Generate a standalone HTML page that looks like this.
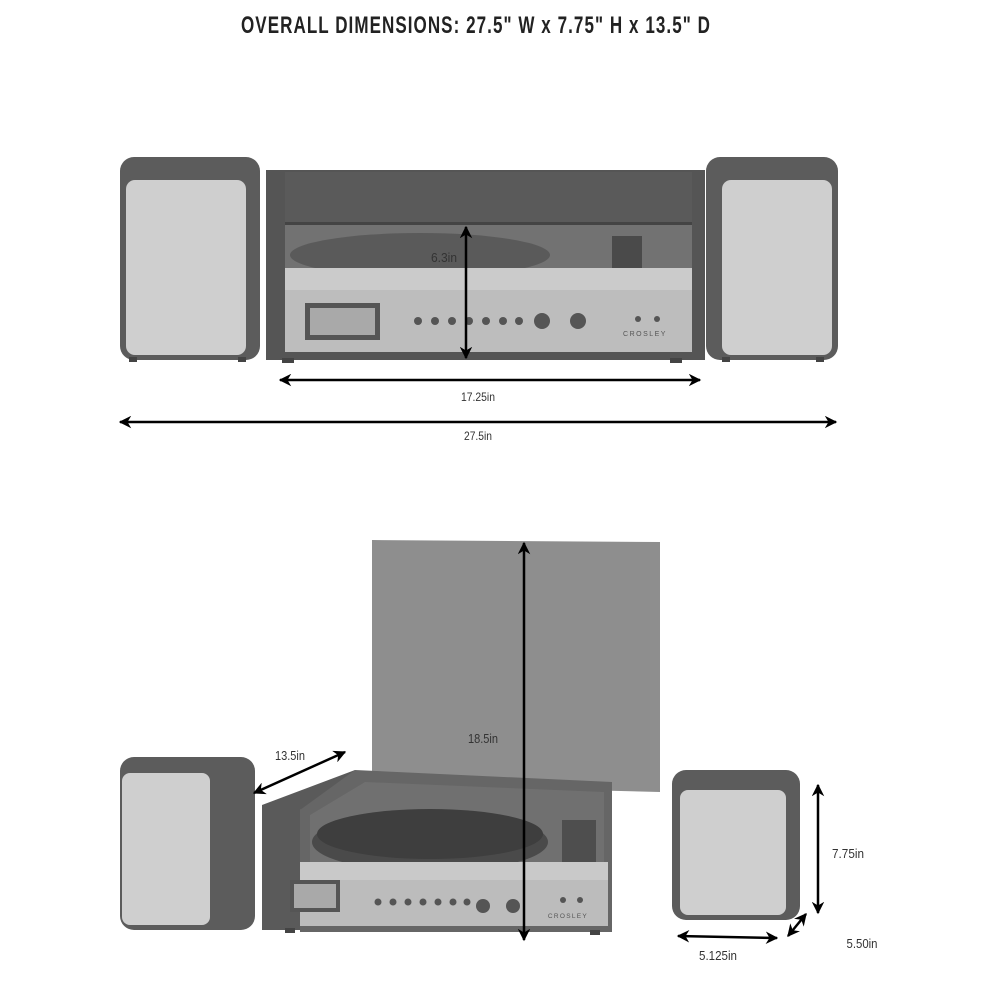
<!DOCTYPE html>
<html><head><meta charset="utf-8"><style>
html,body{margin:0;padding:0;background:#fff}
svg{display:block}
text{font-family:"Liberation Sans Narrow","Liberation Sans",sans-serif}
</style></head><body>
<svg width="1000" height="1000" viewBox="0 0 1000 1000" xmlns="http://www.w3.org/2000/svg">
<defs>
<marker id="ah" viewBox="0 0 10 10" refX="9" refY="5" markerWidth="5" markerHeight="5" orient="auto-start-reverse"><path d="M0,0 L10,5 L0,10 L3,5 z" fill="#000"/></marker>
</defs>
<rect width="1000" height="1000" fill="#fff"/>
<text x="476" y="33" text-anchor="middle" font-size="24" font-weight="bold" fill="#222" letter-spacing="1.5" textLength="470" lengthAdjust="spacingAndGlyphs">OVERALL DIMENSIONS: 27.5" W x 7.75" H x 13.5" D</text>

<!-- TOP VIEW -->
<rect x="120" y="157" width="140" height="203" rx="14" fill="#5c5c5c"/>
<rect x="126" y="180" width="120" height="175" rx="9" fill="#cfcfcf"/>
<rect x="129" y="357" width="8" height="5" fill="#444"/><rect x="238" y="357" width="8" height="5" fill="#444"/>

<rect x="706" y="157" width="132" height="203" rx="14" fill="#5c5c5c"/>
<rect x="722" y="180" width="110" height="175" rx="9" fill="#cfcfcf"/>
<rect x="722" y="357" width="8" height="5" fill="#444"/><rect x="816" y="357" width="8" height="5" fill="#444"/>

<rect x="266" y="170" width="439" height="190" fill="#555"/>
<rect x="285" y="172" width="407" height="52" fill="#5a5a5a"/>
<rect x="285" y="222" width="407" height="3" fill="#444"/>
<rect x="285" y="225" width="407" height="45" fill="#727272"/>
<ellipse cx="420" cy="255" rx="130" ry="22" fill="#5a5a5a"/>
<rect x="612" y="236" width="30" height="36" fill="#4a4a4a"/>
<rect x="285" y="268" width="407" height="22" fill="#cbcbcb"/>
<rect x="285" y="290" width="407" height="62" fill="#bdbdbd"/>
<rect x="305" y="303" width="75" height="37" fill="#555"/>
<rect x="310" y="308" width="65" height="27" fill="#a9a9a9"/>
<g fill="#555">
<circle cx="418" cy="321" r="4"/><circle cx="435" cy="321" r="4"/><circle cx="452" cy="321" r="4"/><circle cx="469" cy="321" r="4"/><circle cx="486" cy="321" r="4"/><circle cx="503" cy="321" r="4"/><circle cx="519" cy="321" r="4"/>
<circle cx="542" cy="321" r="8"/><circle cx="578" cy="321" r="8"/>
<circle cx="638" cy="319" r="3"/><circle cx="657" cy="319" r="3"/>
</g>
<text x="645" y="336" text-anchor="middle" font-size="7" fill="#555" letter-spacing="1.5">CROSLEY</text>
<rect x="282" y="358" width="12" height="5" fill="#444"/><rect x="670" y="358" width="12" height="5" fill="#444"/>

<line x1="466" y1="227" x2="466" y2="358" stroke="#000" stroke-width="2.5" marker-start="url(#ah)" marker-end="url(#ah)"/>
<text x="444" y="262" text-anchor="middle" font-size="13" fill="#333" textLength="26" lengthAdjust="spacingAndGlyphs">6.3in</text>
<line x1="280" y1="380" x2="700" y2="380" stroke="#000" stroke-width="2.5" marker-start="url(#ah)" marker-end="url(#ah)"/>
<text x="478" y="401" text-anchor="middle" font-size="12" fill="#333" textLength="34" lengthAdjust="spacingAndGlyphs">17.25in</text>
<line x1="120" y1="422" x2="836" y2="422" stroke="#000" stroke-width="2.5" marker-start="url(#ah)" marker-end="url(#ah)"/>
<text x="478" y="440" text-anchor="middle" font-size="12" fill="#333" textLength="28" lengthAdjust="spacingAndGlyphs">27.5in</text>

<!-- BOTTOM VIEW -->
<polygon points="372,540 660,542 660,792 372,785" fill="#8e8e8e"/>
<polygon points="262,805 355,770 360,790 300,810 300,930 262,930" fill="#5a5a5a"/>
<polygon points="355,770 612,782 612,932 300,932 300,810" fill="#666"/>
<polygon points="365,782 604,792 604,865 310,865 310,815" fill="#707070"/>
<ellipse cx="430" cy="842" rx="118" ry="30" fill="#4a4a4a"/>
<ellipse cx="430" cy="834" rx="113" ry="25" fill="#3e3e3e"/>
<rect x="562" y="820" width="34" height="45" fill="#4e4e4e"/>
<rect x="300" y="862" width="308" height="18" fill="#c9c9c9"/>
<rect x="300" y="880" width="308" height="46" fill="#bcbcbc"/>
<rect x="290" y="880" width="50" height="32" fill="#555"/>
<rect x="294" y="884" width="42" height="24" fill="#a9a9a9"/>
<g fill="#555">
<circle cx="378" cy="902" r="3.5"/><circle cx="393" cy="902" r="3.5"/><circle cx="408" cy="902" r="3.5"/><circle cx="423" cy="902" r="3.5"/><circle cx="438" cy="902" r="3.5"/><circle cx="453" cy="902" r="3.5"/><circle cx="467" cy="902" r="3.5"/>
<circle cx="483" cy="906" r="7"/><circle cx="513" cy="906" r="7"/>
<circle cx="563" cy="900" r="3"/><circle cx="580" cy="900" r="3"/>
</g>
<text x="568" y="918" text-anchor="middle" font-size="6.5" fill="#555" letter-spacing="1.3">CROSLEY</text>
<rect x="285" y="928" width="10" height="5" fill="#444"/><rect x="590" y="930" width="10" height="5" fill="#444"/>

<rect x="120" y="757" width="135" height="173" rx="14" fill="#5c5c5c"/>
<rect x="122" y="773" width="88" height="152" rx="8" fill="#cfcfcf"/>
<rect x="672" y="770" width="128" height="150" rx="14" fill="#5c5c5c"/>
<rect x="680" y="790" width="106" height="125" rx="8" fill="#cfcfcf"/>

<line x1="524" y1="543" x2="524" y2="940" stroke="#000" stroke-width="2.5" marker-start="url(#ah)" marker-end="url(#ah)"/>
<text x="483" y="743" text-anchor="middle" font-size="13" fill="#333" textLength="30" lengthAdjust="spacingAndGlyphs">18.5in</text>
<line x1="254" y1="793" x2="345" y2="752" stroke="#000" stroke-width="2.5" marker-start="url(#ah)" marker-end="url(#ah)"/>
<text x="290" y="760" text-anchor="middle" font-size="13" fill="#333" textLength="30" lengthAdjust="spacingAndGlyphs">13.5in</text>
<line x1="818" y1="785" x2="818" y2="913" stroke="#000" stroke-width="2.5" marker-start="url(#ah)" marker-end="url(#ah)"/>
<text x="848" y="858" text-anchor="middle" font-size="13" fill="#333" textLength="32" lengthAdjust="spacingAndGlyphs">7.75in</text>
<line x1="806" y1="914" x2="788" y2="936" stroke="#000" stroke-width="2.5" marker-start="url(#ah)" marker-end="url(#ah)"/>
<text x="862" y="948" text-anchor="middle" font-size="13" fill="#333" textLength="31" lengthAdjust="spacingAndGlyphs">5.50in</text>
<line x1="678" y1="936" x2="777" y2="938" stroke="#000" stroke-width="2.5" marker-start="url(#ah)" marker-end="url(#ah)"/>
<text x="718" y="960" text-anchor="middle" font-size="13" fill="#333" textLength="38" lengthAdjust="spacingAndGlyphs">5.125in</text>
</svg>
</body></html>
